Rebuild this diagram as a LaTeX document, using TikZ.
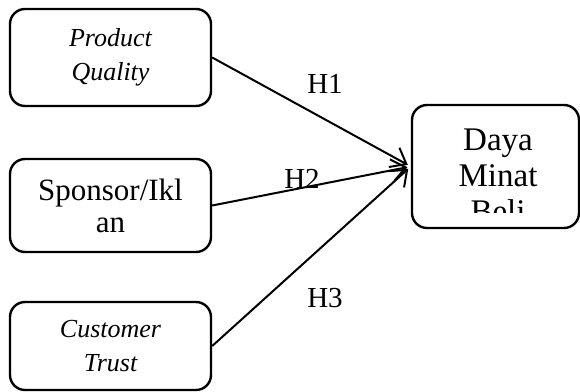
\documentclass[tikz,border=0pt]{standalone}
\usepackage{fontspec}
\setmainfont{Liberation Serif}
\usetikzlibrary{positioning, arrows.meta}
\tikzset{
  %% rounded variable box
  var/.style={
    rectangle, rounded corners=7.5pt,
    minimum width=100.5pt, align=center,
    inner sep=0pt, draw, line width=1.2pt
  },
  %% fonts
  varIt/.style={var, font=\fontsize{13}{17}\selectfont\itshape},
  varUp/.style={var, font=\fontsize{15.5}{16}\selectfont},
  %% arrows
  arr/.style={
    -{Straight Barb[length=7pt, width=11pt, line width=1pt]},
    line width=1pt, shorten >=1.7pt
  },
  lbl/.style={font=\fontsize{14.5}{16}\selectfont, inner sep=0pt}
}

\begin{document}
\begin{tikzpicture}[x=0.5pt, y=-0.5pt]

\useasboundingbox (0,0) rectangle (580,392);

%% ═══════════════════════════════════════════════════════════════
%%  INDEPENDENT VARIABLES
%% ═══════════════════════════════════════════════════════════════

\node[varIt, minimum height=48.5pt] (quality) at (110.5,57.5) {Product\\Quality};

\node[varUp, minimum height=46.5pt] (sponsor) at (110.5,205.5) {Sponsor/Ikl\\an};

\node[varIt, minimum height=44pt] (trust) at (110.5,346) {Customer\\Trust};

%% ═══════════════════════════════════════════════════════════════
%%  DEPENDENT VARIABLE
%% ═══════════════════════════════════════════════════════════════

\node[var, minimum width=83.5pt, minimum height=61.5pt] (minat) at (495.5,166.5) {};

%% text runs past the box, cut at its inner margin
\begin{scope}
  \clip (412,105) rectangle (579,212);
  \node[font=\fontsize{16.5}{18}\selectfont, align=center,
    anchor=north, inner sep=0pt] (minatText) at (498,128) {Daya\\Minat\\Beli};
\end{scope}

%% ═══════════════════════════════════════════════════════════════
%%  HYPOTHESES
%% ═══════════════════════════════════════════════════════════════

\draw[arr] (quality.east) -- (minat.west);
\draw[arr] (sponsor.east) -- (minat.west);
\draw[arr] (trust.east) -- (minat.west);

\node[lbl] (h1) at (325,84) {H1};
\node[lbl] (h2) at (302,179) {H2};
\node[lbl] (h3) at (325,298) {H3};

\end{tikzpicture}
\end{document}
